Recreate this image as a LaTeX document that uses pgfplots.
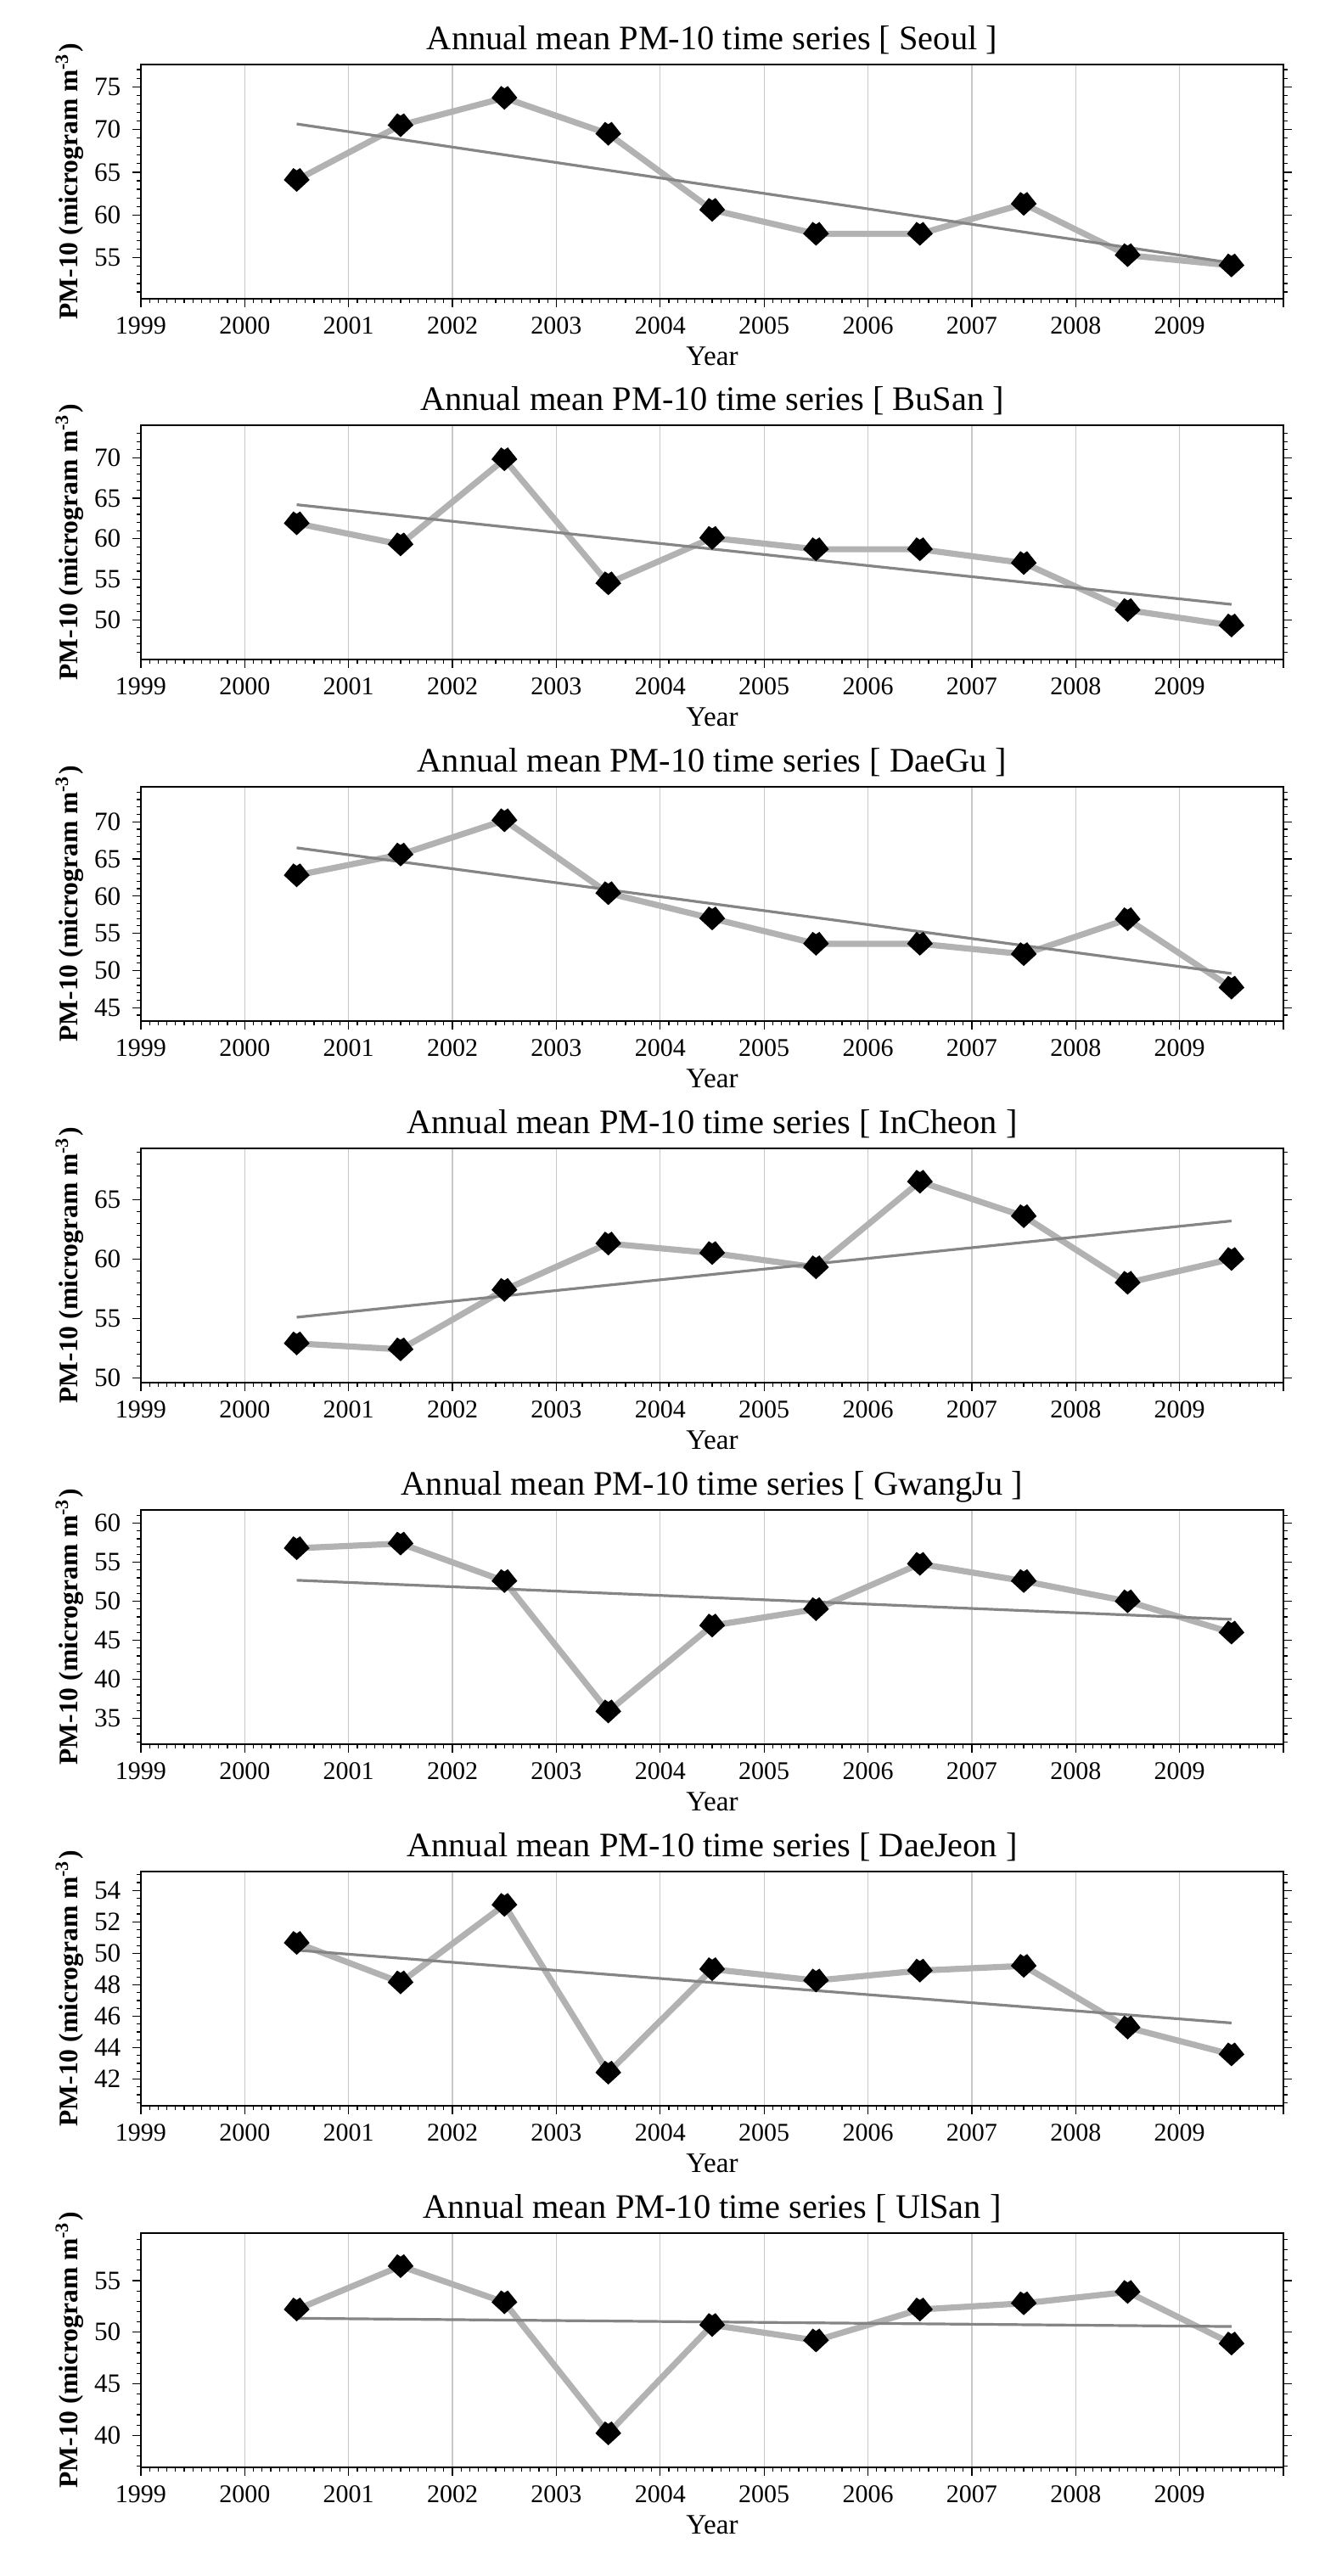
\documentclass[border=0pt]{standalone}
\usepackage{fontspec}
\setmainfont{Liberation Serif}
\usepackage{pgfplots}
\pgfplotsset{compat=1.18}

\definecolor{lineg}{HTML}{B2B2B2}
\definecolor{trendg}{HTML}{858585}
\definecolor{gridg}{HTML}{C8C8C8}

\pgfdeclareplotmark{dd}{%
  \pgfpathmoveto{\pgfqpoint{0pt}{-3.5pt}}%
  \pgfpathlineto{\pgfqpoint{3.8pt}{0pt}}%
  \pgfpathlineto{\pgfqpoint{1.0pt}{3.5pt}}%
  \pgfpathlineto{\pgfqpoint{0pt}{2.8pt}}%
  \pgfpathlineto{\pgfqpoint{-1.0pt}{3.5pt}}%
  \pgfpathlineto{\pgfqpoint{-3.8pt}{0pt}}%
  \pgfpathclose
  \pgfusepathqfill}

\pgfplotsset{
  panel/.style={
    scale only axis, width=336.5pt, height=69pt,
    anchor=north west,
    xmin=1999, xmax=2010,
    xtick={1999,2000,2001,2002,2003,2004,2005,2006,2007,2008,2009,2010},
    xticklabels={1999,2000,2001,2002,2003,2004,2005,2006,2007,2008,2009,{}},
    minor x tick num=11,
    xmajorgrids, major grid style={gridg, line width=0.3pt},
    xtick pos=left, ytick pos=both,
    tick align=outside,
    major tick length=2.4pt, minor tick length=1.2pt,
    every tick/.style={black, line width=0.3pt},
    axis line style={line width=0.35pt},
    /pgf/number format/assume math mode=true,
    xticklabel style={anchor=base, yshift=-8pt, font=\fontsize{7.5}{8}\selectfont},
    yticklabel style={font=\fontsize{7.8}{8}\selectfont},
    title style={at={(axis description cs:0.5,1)}, anchor=base, yshift=-1.5pt,
      font=\fontsize{10.1}{12}\selectfont},
    xlabel={Year},
    xlabel style={at={(axis description cs:0.5,0)}, anchor=base, yshift=-19.5pt,
      font=\fontsize{8.3}{10}\selectfont},
    ylabel={PM-10 (microgram m\textsuperscript{-3})},
    ylabel style={at={(axis description cs:-0.0624,0.5)}, anchor=center,
      font=\bfseries\fontsize{7.9}{9}\selectfont},
  },
  obs/.style={lineg, line width=1.8pt, line join=round,
    mark=dd, mark options={fill=black, draw=black, solid}},
  trend/.style={trendg, line width=0.8pt, no marks},
}

\begin{document}
\begin{tikzpicture}
\useasboundingbox (0,0) rectangle (390.25pt,-758.75pt);

% Seoul
\begin{axis}[panel, at={(41.5pt,-19pt)},
  title={Annual mean PM-10 time series [ Seoul ]},
  ymin=50.2, ymax=77.6, ytick={55,60,65,70,75}, minor ytick={51,...,77}]
\addplot[obs] coordinates {(2000.5,64.1)(2001.5,70.5)(2002.5,73.7)(2003.5,69.5)(2004.5,60.6)(2005.5,57.8)(2006.5,57.8)(2007.5,61.3)(2008.5,55.3)(2009.5,54.1)};
\addplot[trend] coordinates {(2000.5,70.65)(2009.5,54.4)};
\end{axis}

% BuSan
\begin{axis}[panel, at={(41.5pt,-125.25pt)},
  title={Annual mean PM-10 time series [ BuSan ]},
  ymin=45.1, ymax=74.0, ytick={50,55,60,65,70}, minor ytick={46,...,73}]
\addplot[obs] coordinates {(2000.5,61.9)(2001.5,59.3)(2002.5,69.8)(2003.5,54.5)(2004.5,60.1)(2005.5,58.7)(2006.5,58.7)(2007.5,57.0)(2008.5,51.2)(2009.5,49.3)};
\addplot[trend] coordinates {(2000.5,64.2)(2009.5,51.9)};
\end{axis}

% DaeGu
\begin{axis}[panel, at={(41.5pt,-231.75pt)},
  title={Annual mean PM-10 time series [ DaeGu ]},
  ymin=43.2, ymax=74.7, ytick={45,50,55,60,65,70}, minor ytick={44,...,74}]
\addplot[obs] coordinates {(2000.5,62.8)(2001.5,65.6)(2002.5,70.2)(2003.5,60.4)(2004.5,57.0)(2005.5,53.6)(2006.5,53.6)(2007.5,52.2)(2008.5,56.9)(2009.5,47.7)};
\addplot[trend] coordinates {(2000.5,66.5)(2009.5,49.6)};
\end{axis}

% InCheon
\begin{axis}[panel, at={(41.5pt,-338.25pt)},
  title={Annual mean PM-10 time series [ InCheon ]},
  ymin=49.6, ymax=69.3, ytick={50,55,60,65}, minor ytick={50,...,69}]
\addplot[obs] coordinates {(2000.5,52.9)(2001.5,52.4)(2002.5,57.4)(2003.5,61.3)(2004.5,60.5)(2005.5,59.3)(2006.5,66.5)(2007.5,63.6)(2008.5,58.0)(2009.5,60.0)};
\addplot[trend] coordinates {(2000.5,55.1)(2009.5,63.2)};
\end{axis}

% GwangJu
\begin{axis}[panel, at={(41.5pt,-444.75pt)},
  title={Annual mean PM-10 time series [ GwangJu ]},
  ymin=31.7, ymax=61.7, ytick={35,40,45,50,55,60}, minor ytick={32,...,61}]
\addplot[obs] coordinates {(2000.5,56.8)(2001.5,57.4)(2002.5,52.6)(2003.5,35.9)(2004.5,46.9)(2005.5,49.0)(2006.5,54.8)(2007.5,52.6)(2008.5,50.0)(2009.5,46.0)};
\addplot[trend] coordinates {(2000.5,52.7)(2009.5,47.7)};
\end{axis}

% DaeJeon
\begin{axis}[panel, at={(41.5pt,-551.25pt)},
  title={Annual mean PM-10 time series [ DaeJeon ]},
  ymin=40.3, ymax=55.2, ytick={42,44,46,48,50,52,54}, minor ytick={40.5,41,...,55}]
\addplot[obs] coordinates {(2000.5,50.66)(2001.5,48.15)(2002.5,53.08)(2003.5,42.41)(2004.5,48.99)(2005.5,48.27)(2006.5,48.9)(2007.5,49.2)(2008.5,45.28)(2009.5,43.57)};
\addplot[trend] coordinates {(2000.5,50.2)(2009.5,45.57)};
\end{axis}

% UlSan
\begin{axis}[panel, at={(41.5pt,-657.75pt)},
  title={Annual mean PM-10 time series [ UlSan ]},
  ymin=36.9, ymax=59.6, ytick={40,45,50,55}, minor ytick={37,...,59}]
\addplot[obs] coordinates {(2000.5,52.2)(2001.5,56.4)(2002.5,52.9)(2003.5,40.2)(2004.5,50.7)(2005.5,49.2)(2006.5,52.2)(2007.5,52.8)(2008.5,53.9)(2009.5,48.9)};
\addplot[trend] coordinates {(2000.5,51.35)(2009.5,50.55)};
\end{axis}
\end{tikzpicture}
\end{document}
